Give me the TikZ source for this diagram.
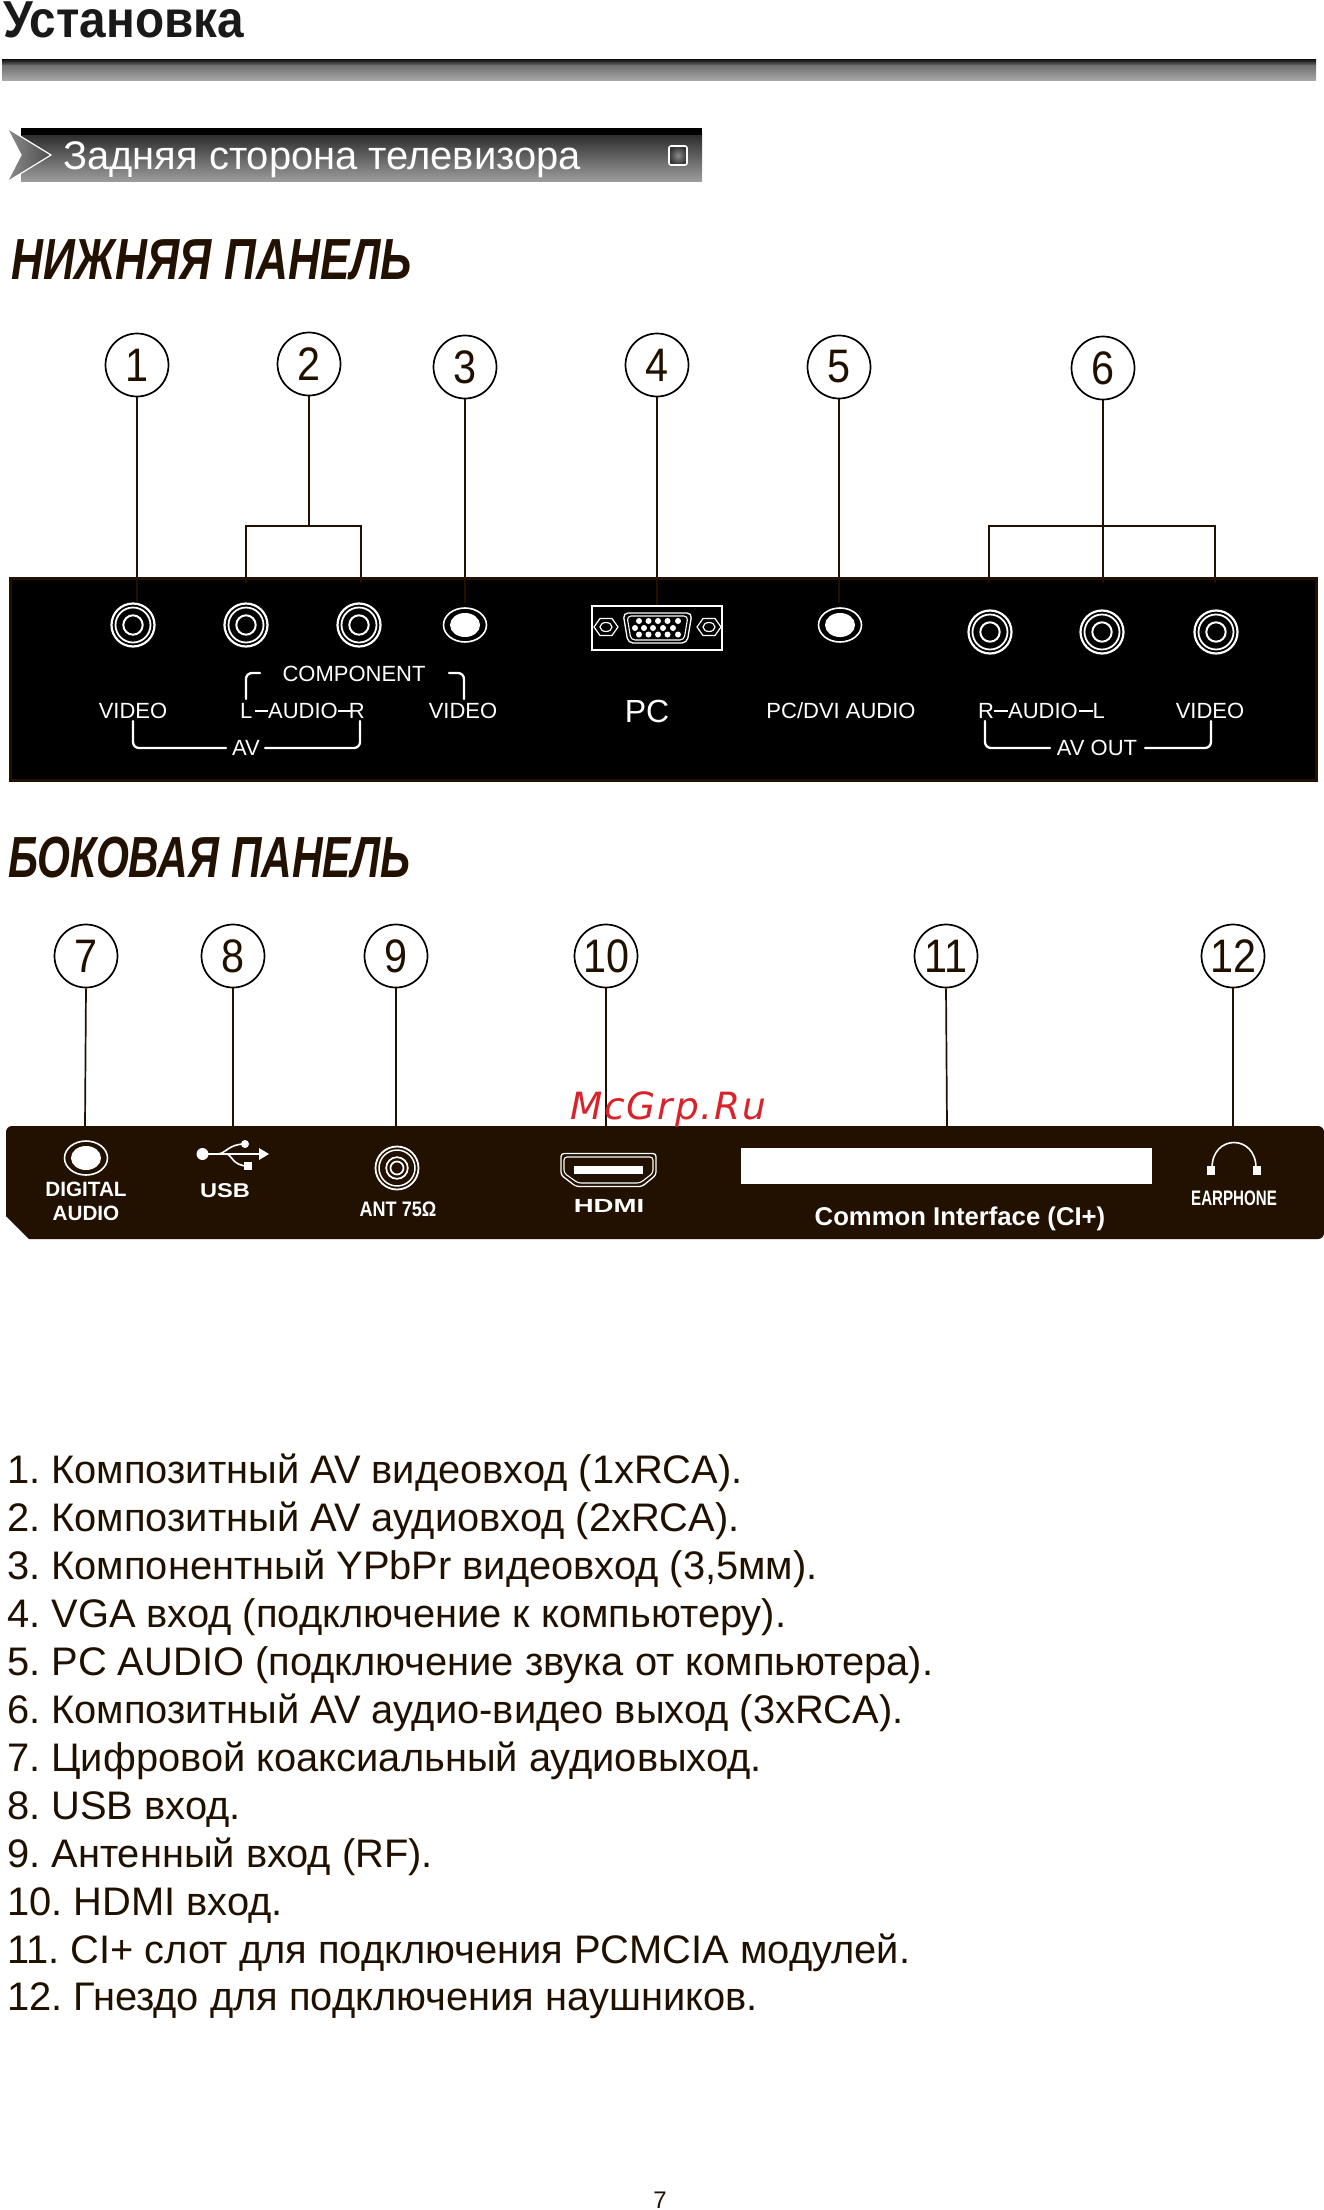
\documentclass[tikz,border=0pt]{standalone}
\usepackage{fontspec}
\setmainfont{Liberation Sans}
\frenchspacing
\newfontfamily\narrowbold[FakeStretch=0.72]{Liberation Sans Bold}
\newfontfamily\antbold[FakeStretch=0.86]{Liberation Sans Bold}
\newfontfamily\headfont[FakeStretch=0.917]{Liberation Sans Bold}
\newfontfamily\panelheadA[FakeStretch=0.762]{Liberation Sans Bold Italic}
\newfontfamily\panelheadB[FakeStretch=0.73]{Liberation Sans Bold Italic}
\newfontfamily\digitfont[FakeStretch=0.88]{Liberation Sans}
\newfontfamily\wideA[FakeStretch=1.45]{Liberation Sans Bold}
\newfontfamily\wideB[FakeStretch=1.18]{Liberation Sans Bold}
\newfontfamily\wmfont[LetterSpace=5]{DejaVu Sans Oblique}
\usetikzlibrary{shadings}
\definecolor{pbrown}{HTML}{221000}
\definecolor{ink}{HTML}{201000}
\definecolor{wmred}{HTML}{D9222A}
\newcommand{\fs}[1]{\fontsize{#1}{#1}\selectfont}
\tikzset{
 x=1pt,y=-1pt,
 num/.style={circle,draw=black,line width=1.7pt,minimum size=63pt,inner sep=0pt,font=\digitfont\fs{47},text=ink},
 lead/.style={draw=pbrown,line width=1.7pt},
 ptext/.style={text=white,inner sep=0pt,anchor=base,font=\fs{22}},
 bracket/.style={draw=white,line width=2.3pt,rounded corners=6pt,line cap=round},
 tick/.style={draw=white,line width=2.2pt},
 wbold/.style={text=white,inner sep=0pt,anchor=base,font=\bfseries\fs{20.7}},
 lst/.style={anchor=base west,inner sep=0pt,text=ink,font=\fs{39.85}},
}
\newcommand{\rca}[2]{%
 \foreach \r/\w in {21.5/2.2,17.5/1.8,9.7/2}{\draw[white,line width=\w pt] (#1,#2) circle[radius=\r];}
}
\newcommand{\mini}[2]{%
 \draw[white,line width=1.6pt] (#1,#2) ellipse[x radius=21.5,y radius=17];
 \fill[white] (#1,#2) ellipse[x radius=15,y radius=12];
}
\newcommand{\hexa}[2]{%
 \draw[white,line width=1.2pt] (#1-12,#2)--(#1-6,#2-8.5)--(#1+6,#2-8.5)--(#1+12,#2)--(#1+6,#2+8.5)--(#1-6,#2+8.5)--cycle;
 \draw[white,line width=1.2pt] (#1,#2) ellipse[x radius=6,y radius=4.5];
}
\begin{document}
\begin{tikzpicture}
\useasboundingbox (0,0) rectangle (1324,2210);
% heading
\node[anchor=base west,inner sep=0pt,text=black!90,font=\headfont\fs{52}] (title) at (3,37.5) {Установка};
\shade[top color=black!90,bottom color=black!55] (2,60) rectangle (1316,66);
\shade[top color=black!55,bottom color=black!33] (2,66) rectangle (1316,81);
% banner
\shade[top color=black!82,bottom color=black!38] (21,135) rectangle (702,182);
\fill[black] (21,128) rectangle (702,135);
\shade[left color=black!45,right color=black!70,draw=white,line width=1.2pt] (7,128)--(51,155)--(7,182)--(21,155)--cycle;
\node[anchor=base west,inner sep=0pt,text=white,font=\fs{39.9}] (bt) at (63,170) {Задняя сторона телевизора};
\shade[inner color=black!45,outer color=black!80] (669,146) rectangle (687,165);
\draw[white,line width=1.6pt,rounded corners=2pt] (669,146) rectangle (687,165);
% panel headings
\node[anchor=base west,inner sep=0pt,text=pbrown,font=\panelheadA\fs{58}] (h1) at (11,279) {НИЖНЯЯ ПАНЕЛЬ};
\node[anchor=base west,inner sep=0pt,text=pbrown,font=\panelheadB\fs{58}] (h2) at (8,877) {БОКОВАЯ ПАНЕЛЬ};
% lower panel
\draw[pbrown,line width=3pt,fill=black] (10,578) rectangle (1316,780);
% numbered circles
\foreach \n/\lab/\px/\py in {c1/1/137/365,c2/2/309/364,c3/3/465/367,c4/4/657/365,c5/5/839/367,c6/6/1103/368,
 d7/7/86/956,d8/8/233/956,d9/9/396/956,d10/10/606/956,d11/11/946/956,d12/12/1233/956}
 \node[num] (\n) at (\px,\py) {\lab};
% jacks
\rca{133}{625}\rca{246}{625}\rca{359}{625}
\mini{465}{625}\mini{840}{625}
\rca{990}{632}\rca{1102}{632}\rca{1216}{632}
% leads lower
\coordinate (t1) at (138,602);\coordinate (t3) at (465,603);\coordinate (t4) at (659,605);\coordinate (t5) at (840,603);
\coordinate (j2) at (309,526);\coordinate (j6) at (1103,526);
\draw[lead] (c1.south) -- (c1.south |- t1);
\draw[lead] (c3.south) -- (t3);
\draw[lead] (c4.south) -- (c4.south |- t4);
\draw[lead] (c5.south) -- (c5.south |- t5);
\draw[lead] (c2.south) -- (j2);
\draw[lead] (246,583) -- (246,526) -- (361,526) -- (361,583);
\draw[lead] (c6.south) -- (j6 |- 0,583);
\draw[lead] (989,583) -- (989,526) -- (1215,526) -- (1215,583);
% VGA
\draw[white,line width=2pt] (592,606) rectangle (722,650);
\hexa{606}{627}\hexa{709}{627}
\draw[white,line width=1.3pt,rounded corners=5pt] (623,613)--(692,613)--(687,643)--(628,643)--cycle;
\draw[white,line width=1.1pt,rounded corners=4pt] (627,616)--(688,616)--(684,640)--(631,640)--cycle;
\foreach \px in {639,648.5,658,667.5,678}{\fill[white] (\px,621) circle[radius=3];\fill[white] (\px,634.5) circle[radius=3];}
\foreach \px in {635,644,653,663,673}{\fill[white] (\px,628) circle[radius=3];}
% lower panel labels
\node[ptext] (v1) at (133,718) {VIDEO};
\node[ptext] (comp) at (354,681) {COMPONENT};
\node[ptext,anchor=base west] (l1) at (240,718) {L};
\node[ptext,anchor=base] (a1) at (303,718) {AUDIO};
\node[ptext,anchor=base east] (r1) at (365,718) {R};
\draw[tick] (255,711) -- (268,711);
\draw[tick] (338,711) -- (351,711);
\node[ptext] (v2) at (463,718) {VIDEO};
\node[ptext,font=\fs{32}] (pc) at (647,722) {PC};
\node[ptext] (pd) at (841,718) {PC/DVI AUDIO};
\node[ptext,anchor=base west] (r2) at (978,718) {R};
\node[ptext] (a2) at (1043,718) {AUDIO};
\node[ptext,anchor=base east] (l2) at (1105,718) {L};
\draw[tick] (994,711) -- (1008,711);
\draw[tick] (1079,711) -- (1093,711);
\node[ptext] (v3) at (1210,718) {VIDEO};
\node[ptext] (av) at (246,755) {AV};
\node[ptext] (avo) at (1097,755) {AV OUT};
\draw[bracket] (246,699) -- (246,673) -- (260,673);
\draw[bracket] (449,673) -- (464,673) -- (464,699);
\draw[bracket] (133,721) -- (133,748) -- (226,748);
\draw[bracket] (265,748) -- (360,748) -- (360,721);
\draw[bracket] (985,721) -- (985,748) -- (1050,748);
\draw[bracket] (1145,748) -- (1211,748) -- (1211,721);
% side panel
\fill[pbrown,rounded corners=6pt] (6,1216) -- (6,1126) -- (1324,1126) -- (1324,1239) -- (700,1239) [sharp corners] -- (29,1239) -- cycle;
\foreach \n/\px in {d7/85,d8/233,d9/396,d10/606,d11/947,d12/1233}
 \draw[lead] (\n.south) -- (\px,1126);
\mini{86}{1158}
\node[wbold] (dig) at (86,1196) {DIGITAL};
\node[wbold] (aud) at (86,1220) {AUDIO};
% USB icon
\fill[white] (202.5,1154) circle[radius=6];
\draw[white,line width=1.6pt] (202.5,1154) -- (260,1154);
\fill[white] (259,1148) -- (269,1154) -- (259,1160) -- cycle;
\draw[white,line width=1.6pt] (217,1154) .. controls (226,1154) and (228,1144) .. (245,1144);
\draw[white,line width=1.6pt] (226,1154) .. controls (232,1154) and (232,1166) .. (248,1166);
\fill[white] (245,1144) circle[radius=4];
\fill[white] (244,1162) rectangle (252,1170);
\node[wbold,font=\wideB\fs{20}] (usb) at (225,1197) {USB};
% antenna
\foreach \r/\w in {21.5/1.8,18/1.5,10.8/1.7,6.5/1.7}{\draw[white,line width=\w pt] (397,1168) circle[radius=\r];}
\node[wbold,font=\antbold\fs{21}] (ant) at (398,1216) {ANT 75Ω};
% HDMI
\draw[white,line width=1.3pt,rounded corners=3pt] (561,1153.5)--(656,1153.5)--(656,1175)--(642,1186.5)--(576,1186.5)--(561,1175)--cycle;
\draw[white,line width=1.1pt,rounded corners=3pt] (564,1157)--(653,1157)--(653,1173)--(640,1183)--(578,1183)--(564,1173)--cycle;
\fill[white] (574,1166) rectangle (643,1174);
\node[wbold,font=\wideA\fs{19}] (hd) at (609,1212) {HDMI};
% CI slot
\fill[white] (741,1148) rectangle (1152,1184);
\node[wbold,font=\bfseries\fs{25.7}] (ci) at (960,1225) {Common Interface (CI+)};
% earphone
\draw[white,line width=1.6pt] (1212,1168) .. controls (1212,1134) and (1256,1134) .. (1256,1168);
\fill[white] (1207,1166) rectangle (1215,1175);
\fill[white] (1253,1166) rectangle (1261,1175);
\node[wbold,font=\narrowbold\fs{21}] (ear) at (1234,1205) {EARPHONE};
% watermark
\node[anchor=base west,inner sep=0pt,text=wmred,font=\wmfont\fs{37.5}] (wm) at (570,1119) {McGrp.Ru};
% list
\foreach \i/\t in {0/{1. Композитный AV видеовход (1xRCA).},1/{2. Композитный AV аудиовход (2xRCA).},2/{3. Компонентный YPbPr видеовход (3,5мм).},3/{4. VGA вход (подключение к компьютеру).},4/{5. PC AUDIO (подключение звука от компьютера).},5/{6. Композитный AV аудио-видео выход (3xRCA).},6/{7. Цифровой коаксиальный аудиовыход.},7/{8. USB вход.},8/{9. Антенный вход (RF).},9/{10. HDMI вход.},10/{11. CI+ слот для подключения PCMCIA модулей.},11/{12. Гнездо для подключения наушников.}}
 \node[lst] (li\i) at (7,1483.5+\i*47.95) {\t};
\node[anchor=base,inner sep=0pt,text=ink,font=\fs{24}] (pg) at (660,2208) {7};
\end{tikzpicture}
\end{document}
